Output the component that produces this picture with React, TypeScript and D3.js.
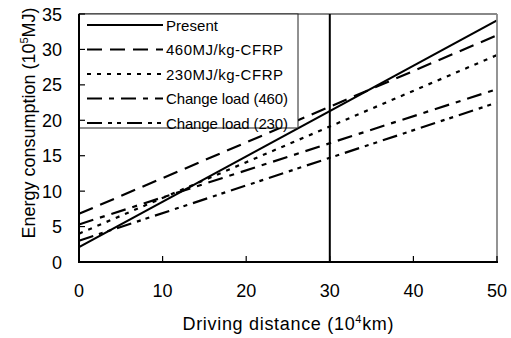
import React from "react";
import * as d3 from "d3";

const distances = [0, 50];
const seriesNames = ["Present", "460MJ/kg-CFRP", "230MJ/kg-CFRP", "Change load (460)", "Change load (230)"];
const present = [2.1, 34.1];
const cfrp460 = [6.8, 32.0];
const cfrp230 = [4.0, 29.2];
const change460 = [5.3, 24.4];
const change230 = [3.0, 22.5];
const xTicks = [0, 10, 20, 30, 40, 50];
const yTicks = [0, 5, 10, 15, 20, 25, 30, 35];
const markerX = 30;

const dashes = ["", "15,8", "4,6", "15,7,5,7", "15,6,4,5,4,6"];
const legendTextLen = [52, 117, 117, 122, 122];

export default function App() {
  const W = 511, H = 338;
  const x = d3.scaleLinear().domain([0, 50]).range([79, 497]);
  const y = d3.scaleLinear().domain([0, 35]).range([262, 14]);
  const all = [present, cfrp460, cfrp230, change460, change230];
  const line = d3.line<number>().x((_, i) => x(distances[i])).y((d) => y(d));
  const font = "'Liberation Sans', Arial, sans-serif";
  const legX0 = 79, legX1 = 298, legY0 = 14, legY1 = 128;
  const rowY = [25, 49.5, 74, 98.5, 123];

  return (
    <svg width={W} height={H} style={{ position: "absolute", left: 0, top: 0, background: "#fff" }} fontFamily={font}>
      <rect x={0} y={0} width={W} height={H} fill="#fff" />
      {all.map((s, i) => (
        <path key={i} d={line(s) || ""} fill="none" stroke="#000" strokeWidth={2.2} strokeDasharray={dashes[i] || undefined} />
      ))}
      {/* frame top/right */}
      <line x1={x(0)} x2={x(50)} y1={y(35)} y2={y(35)} stroke="#888" strokeWidth={1.8} />
      <line x1={x(50)} x2={x(50)} y1={y(35)} y2={y(0)} stroke="#888" strokeWidth={1.8} />
      {/* vertical marker */}
      <line x1={x(markerX)} x2={x(markerX)} y1={y(35)} y2={y(0)} stroke="#000" strokeWidth={2} />
      {/* legend */}
      <rect x={legX0} y={legY0} width={legX1 - legX0} height={legY1 - legY0} fill="#fff" stroke="#222" strokeWidth={1} />
      {seriesNames.map((n, i) => (
        <g key={n}>
          <line x1={87} x2={163} y1={rowY[i]} y2={rowY[i]} stroke="#000" strokeWidth={2.2} strokeDasharray={dashes[i] || undefined} />
          <text x={166} y={rowY[i] + 5.5} fontSize={15} textLength={legendTextLen[i]} lengthAdjust="spacing">{n}</text>
        </g>
      ))}
      {/* axes */}
      <line x1={x(0)} x2={x(0)} y1={y(35)} y2={y(0) + 1} stroke="#000" strokeWidth={2} />
      <line x1={x(0) - 1} x2={x(50) + 1} y1={y(0)} y2={y(0)} stroke="#000" strokeWidth={2} />
      {yTicks.map((t) => (
        <g key={"y" + t}>
          <line x1={x(0)} x2={x(0) + 6} y1={y(t)} y2={y(t)} stroke="#000" strokeWidth={1.2} />
          <text x={62} y={y(t) + 6.5} fontSize={18} textAnchor="end">{t}</text>
        </g>
      ))}
      {xTicks.map((t) => (
        <g key={"x" + t}>
          <line x1={x(t)} x2={x(t)} y1={y(0)} y2={y(0) - 6} stroke="#000" strokeWidth={1.2} />
          <text x={x(t)} y={296.5} fontSize={18} textAnchor="middle">{t}</text>
        </g>
      ))}
      <text x={288} y={330} fontSize={18} textAnchor="middle" textLength={211} lengthAdjust="spacing">
        Driving distance (10<tspan fontSize={11} dy={-7}>4</tspan><tspan dy={7}>km)</tspan>
      </text>
      <text transform="translate(34.5,123) rotate(-90)" fontSize={18} textAnchor="middle">
        Energy consumption (10<tspan fontSize={11} dy={-7}>5</tspan><tspan dy={7}>MJ)</tspan>
      </text>
    </svg>
  );
}
